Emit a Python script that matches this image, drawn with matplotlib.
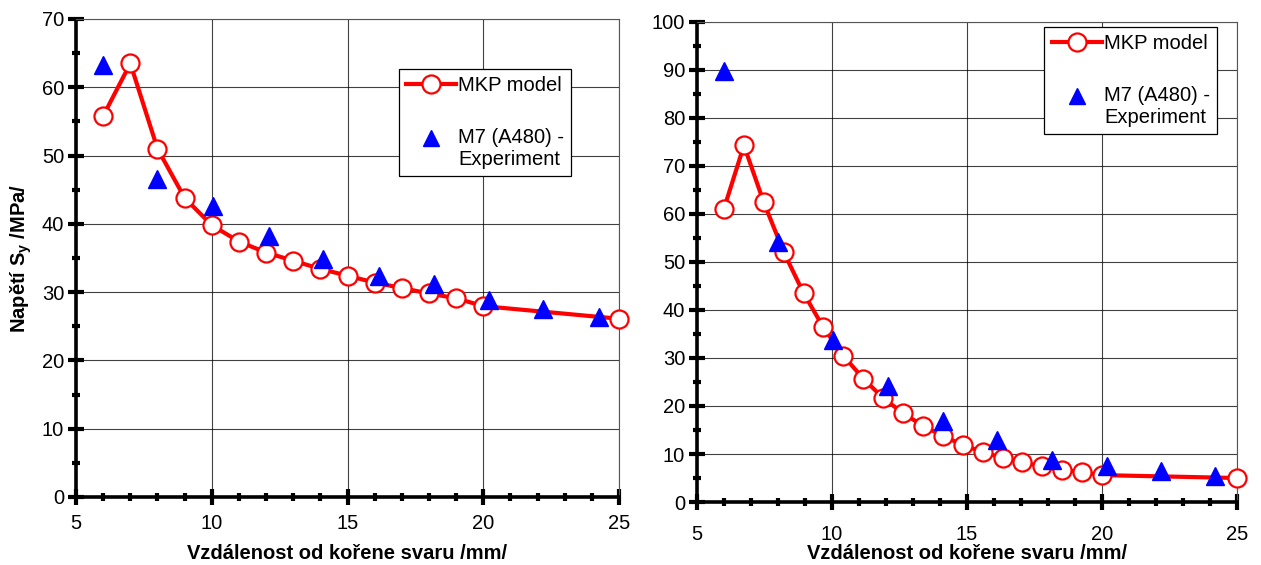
import numpy as np
import matplotlib
matplotlib.use("Agg")
import matplotlib.pyplot as plt
from matplotlib.ticker import MultipleLocator

plt.rcParams['font.family'] = ['Liberation Sans', 'DejaVu Sans']

# levy graf
x_mkp_l = [6, 7, 8, 9, 10, 11, 12, 13, 14, 15, 16, 17, 18, 19, 20, 25]
y_mkp_l = [55.8, 63.5, 51.0, 43.8, 39.8, 37.4, 35.8, 34.6, 33.4, 32.4, 31.4, 30.6, 29.8, 29.1, 27.95, 26.1]
x_exp_l = [6, 8, 10.05, 12.1, 14.1, 16.15, 18.2, 20.2, 22.2, 24.25]
y_exp_l = [63.3, 46.6, 42.6, 38.2, 34.9, 32.4, 31.2, 28.9, 27.6, 26.3]

# pravy graf
x_mkp_r = [6, 6.74, 7.47, 8.21, 8.95, 9.68, 10.42, 11.16, 11.89, 12.63, 13.37,
           14.11, 14.84, 15.58, 16.32, 17.05, 17.79, 18.53, 19.26, 20, 25]
y_mkp_r = [61.1, 74.3, 62.5, 52.1, 43.5, 36.4, 30.5, 25.7, 21.7, 18.5, 15.9,
           13.75, 11.9, 10.4, 9.2, 8.3, 7.4, 6.7, 6.25, 5.6, 5.0]
x_exp_r = [6, 8.0, 10.05, 12.07, 14.1, 16.13, 18.16, 20.17, 22.2, 24.2]
y_exp_r = [89.7, 54.2, 33.7, 24.2, 16.8, 13.0, 8.8, 7.4, 6.4, 5.35]

xlabel = "Vzdálenost od kořene svaru /mm/"
ylabel = "Napětí S$_\\mathregular{y}$ /MPa/"
fs = 14.5

fig = plt.figure(figsize=(12.61, 5.65), dpi=100)
ax1 = fig.add_axes([0.0603, 0.1204, 0.4306, 0.846])
ax2 = fig.add_axes([0.5527, 0.1115, 0.4282, 0.8496])


def styl(ax, ymax, ystep):
    ax.set_xlim(5, 25)
    ax.set_ylim(0, ymax)
    ax.xaxis.set_major_locator(MultipleLocator(5))
    ax.xaxis.set_minor_locator(MultipleLocator(1))
    ax.yaxis.set_major_locator(MultipleLocator(ystep))
    ax.yaxis.set_minor_locator(MultipleLocator(ystep / 2))
    ax.grid(True, which='major', color='black', linewidth=0.8, alpha=0.75)
    ax.set_axisbelow(True)
    for s in ['left', 'bottom']:
        ax.spines[s].set_linewidth(2.6)
    for s in ['top', 'right']:
        ax.spines[s].set_linewidth(0.8)
        ax.spines[s].set_color('#555555')
    ax.tick_params(which='major', direction='inout', length=11, width=3, labelsize=fs, pad=3)
    ax.tick_params(which='minor', direction='inout', length=6, width=3)
    ax.tick_params(axis='x', which='major', pad=7)
    ax.set_xlabel(xlabel, fontsize=fs, fontweight='bold', labelpad=8)


for ax, xm, ym, xe, ye, ymax, ystep, anchor in [
        (ax1, x_mkp_l, y_mkp_l, x_exp_l, y_exp_l, 70, 10, (0.912, 0.895)),
        (ax2, x_mkp_r, y_mkp_r, x_exp_r, y_exp_r, 100, 10, (0.963, 0.990))]:
    styl(ax, ymax, ystep)
    ax.plot(xm, ym, color='red', linewidth=3, marker='o', markersize=13,
            markerfacecolor='white', markeredgecolor='red', markeredgewidth=1.6,
            label='MKP model', clip_on=False, zorder=3)
    ax.plot(xe, ye, linestyle='none', marker='^', markersize=13, color='blue',
            label='M7 (A480) -\nExperiment', clip_on=False, zorder=4)
    leg = ax.legend(loc='upper right', bbox_to_anchor=anchor, fontsize=fs,
                    fancybox=False, framealpha=1, edgecolor='black',
                    handlelength=2.5, handletextpad=0.1, labelspacing=1.65,
                    borderpad=0.35, borderaxespad=0)
    leg.get_frame().set_linewidth(0.9)
    for t in leg.get_texts():
        t.set_multialignment('left')
    h = leg.legend_handles[1]
    h.set_markersize(11)
    # trojuhelnik zarovnat s prvnim radkem popisku
    h.set_ydata(np.asarray(h.get_ydata()) + 0.55 * fs)

ax1.set_ylabel(ylabel, fontsize=fs, fontweight='bold', labelpad=6)
ax2.tick_params(axis='x', which='major', pad=11)
ax2.xaxis.labelpad = 0

plt.savefig("out.png", dpi=100)
